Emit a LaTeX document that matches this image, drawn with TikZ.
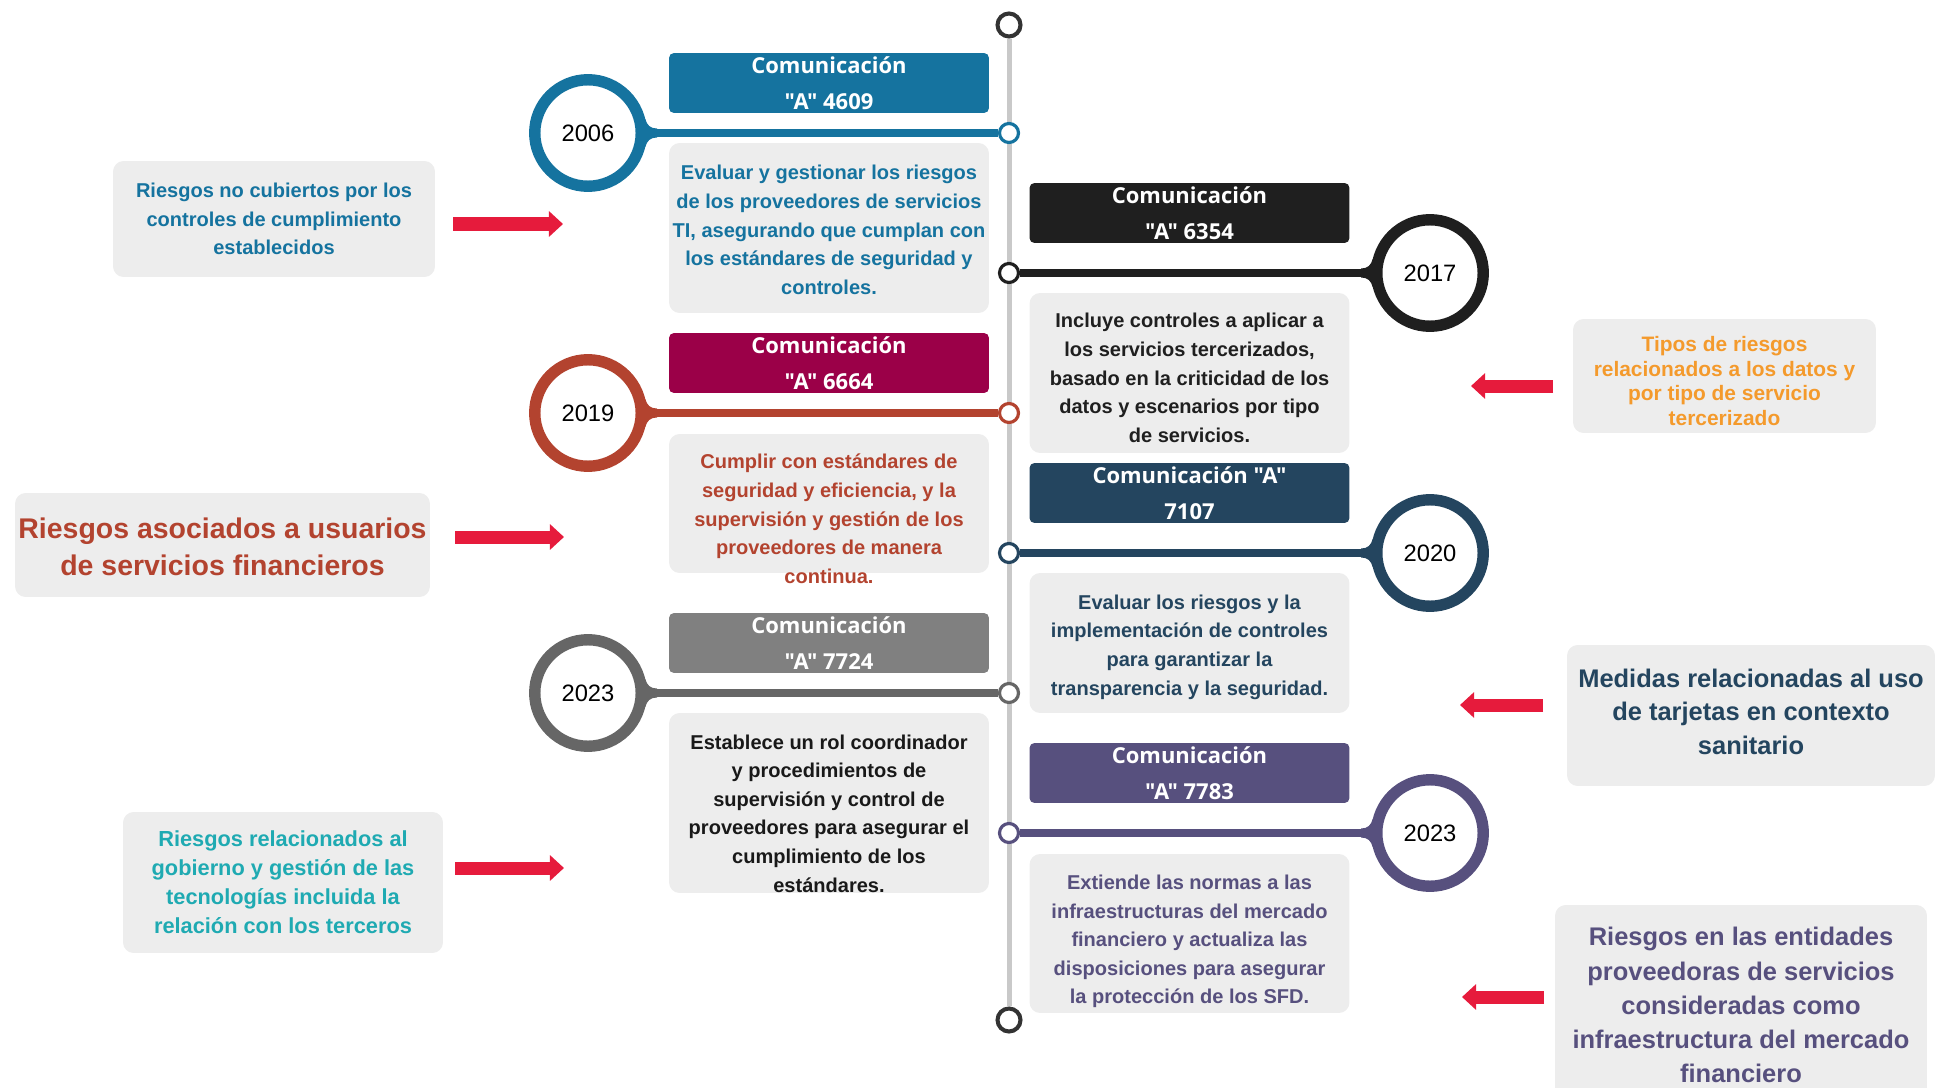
\documentclass[tikz,border=0pt]{standalone}
\usepackage{fontspec}
\setmainfont{Liberation Sans}
\newfontfamily\headfam{Open Sans}
\usetikzlibrary{arrows.meta}
\definecolor{cA}{HTML}{15739F}
\definecolor{cB}{HTML}{1F1F1F}
\definecolor{cC}{HTML}{B3432F}
\definecolor{cCh}{HTML}{9B0048}
\definecolor{cD}{HTML}{24455F}
\definecolor{cE}{HTML}{666666}
\definecolor{cEh}{HTML}{808080}
\definecolor{cF}{HTML}{57507E}
\definecolor{orng}{HTML}{F49A2C}
\definecolor{teal}{HTML}{1FAAB2}
\definecolor{arrred}{HTML}{E61B3C}
\definecolor{boxgray}{HTML}{EDEDED}
\definecolor{spinegray}{HTML}{C9C9C9}
\newcommand{\yrfont}{\fontsize{13.5pt}{16pt}\selectfont}
\newcommand{\hdfont}{\headfam\bfseries\fontsize{12.5pt}{20.5pt}\selectfont}
\newcommand{\txfont}{\bfseries\fontsize{11.4pt}{16.3pt}\selectfont}
\tikzset{yearc/.style={circle,draw=#1,line width=6.5pt,fill=white,minimum size=2.13cm,inner sep=0pt,font=\yrfont},
	 dotc/.style={circle,draw=#1,line width=1.8pt,fill=white,minimum size=0.38cm,inner sep=0pt},
	 endc/.style={circle,draw=black!80,line width=2.3pt,fill=white,minimum size=0.46cm,inner sep=0pt},
	 spine/.style={draw=spinegray,line width=2.85pt},
	 conn/.style={draw=#1,line width=5.1pt},
	 head/.style={rectangle,rounded corners=2.8pt,fill=#1,text=white,minimum width=6.4cm,minimum height=1.2cm,inner sep=0pt,align=center,font=\hdfont},
	 txtbox/.style={rectangle,rounded corners=6pt,fill=boxgray,minimum width=6.4cm,inner sep=0pt},
	 txt/.style={align=center,inner sep=0pt,font=\txfont,text=#1},
	 riskbox/.style={rectangle,rounded corners=6pt,fill=boxgray,inner sep=0pt},
	 risktxt/.style={align=center,inner sep=0pt,text=#1},
	 redarr/.style={draw=arrred,line width=7.4pt,-{Triangle[length=8pt,width=14.2pt]}}
	 }
\begin{document}
\begin{tikzpicture}[x=0.02cm,y=-0.02cm]
	\useasboundingbox (0,0) rectangle (1935,1088);
	% spine
	\node[endc] (top) at (1009,25) {};
	\node[endc] (bot) at (1009,1020) {};
	\draw[spine] (top) -- (bot);
	% 2006
	\node[yearc=cA] (y06) at (588,133) {2006};
	\node[dotc=cA] (d06) at (1009,133) {};
	\draw[conn=cA] (y06) -- (d06);
	\fill[cA,shift={(y06.center)}] (69,-4.5) .. controls (62,-4.5) and (59,-8) .. (57.3,-14) -- (50,0) -- (57.3,14) .. controls (59,8) and (62,4.5) .. (69,4.5) -- cycle;
	\node[head=cA] (h06) at (829,83) {Comunicación\\"A" 4609};
	\node[txtbox,minimum height=3.4cm] (b06) at (829,228) {};
	\node[txt=cA] (t06) at (829,230) {Evaluar y gestionar los riesgos\\de los proveedores de servicios\\TI, asegurando que cumplan con\\los estándares de seguridad y\\controles.};
	% 2017
	\node[yearc=cB] (y17) at (1430,273) {2017};
	\node[dotc=cB] (d17) at (1009,273) {};
	\draw[conn=cB] (y17) -- (d17);
	\fill[cB,shift={(y17.center)},xscale=-1] (69,-4.5) .. controls (62,-4.5) and (59,-8) .. (57.3,-14) -- (50,0) -- (57.3,14) .. controls (59,8) and (62,4.5) .. (69,4.5) -- cycle;
	\node[head=cB] (h17) at (1189.5,213) {Comunicación\\"A" 6354};
	\node[txtbox,minimum height=3.2cm] (b17) at (1189.5,373) {};
	\node[txt=cB] (t17) at (1189.5,378) {Incluye controles a aplicar a\\los servicios tercerizados,\\basado en la criticidad de los\\datos y escenarios por tipo\\de servicios.};
	% 2019
	\node[yearc=cC] (y19) at (588,413) {2019};
	\node[dotc=cC] (d19) at (1009,413) {};
	\draw[conn=cC] (y19) -- (d19);
	\fill[cC,shift={(y19.center)}] (69,-4.5) .. controls (62,-4.5) and (59,-8) .. (57.3,-14) -- (50,0) -- (57.3,14) .. controls (59,8) and (62,4.5) .. (69,4.5) -- cycle;
	\node[head=cCh] (h19) at (829,363) {Comunicación\\"A" 6664};
	\node[txtbox,minimum height=2.78cm] (b19) at (829,503.5) {};
	\node[txt=cC] (t19) at (829,519) {Cumplir con estándares de\\seguridad y eficiencia, y la\\supervisión y gestión de los\\proveedores de manera\\continua.};
	% 2020
	\node[yearc=cD] (y20) at (1430,553) {2020};
	\node[dotc=cD] (d20) at (1009,553) {};
	\draw[conn=cD] (y20) -- (d20);
	\fill[cD,shift={(y20.center)},xscale=-1] (69,-4.5) .. controls (62,-4.5) and (59,-8) .. (57.3,-14) -- (50,0) -- (57.3,14) .. controls (59,8) and (62,4.5) .. (69,4.5) -- cycle;
	\node[head=cD] (h20) at (1189.5,493) {Comunicación "A"\\7107};
	\node[txtbox,minimum height=2.8cm] (b20) at (1189.5,643) {};
	\node[txt=cD] (t20) at (1189.5,647) {Evaluar los riesgos y la\\implementación de controles\\para garantizar la\\transparencia y la seguridad.};
	% 2023 left
	\node[yearc=cE] (y23a) at (588,693) {2023};
	\node[dotc=cE] (d23a) at (1009,693) {};
	\draw[conn=cE] (y23a) -- (d23a);
	\fill[cE,shift={(y23a.center)}] (69,-4.5) .. controls (62,-4.5) and (59,-8) .. (57.3,-14) -- (50,0) -- (57.3,14) .. controls (59,8) and (62,4.5) .. (69,4.5) -- cycle;
	\node[head=cEh] (h23a) at (829,643) {Comunicación\\"A" 7724};
	\node[txtbox,minimum height=3.6cm] (b23a) at (829,803) {};
	\node[txt=black!90] (t23a) at (829,813.5) {Establece un rol coordinador\\y procedimientos de\\supervisión y control de\\proveedores para asegurar el\\cumplimiento de los\\estándares.};
	% 2023 right
	\node[yearc=cF] (y23b) at (1430,833) {2023};
	\node[dotc=cF] (d23b) at (1009,833) {};
	\draw[conn=cF] (y23b) -- (d23b);
	\fill[cF,shift={(y23b.center)},xscale=-1] (69,-4.5) .. controls (62,-4.5) and (59,-8) .. (57.3,-14) -- (50,0) -- (57.3,14) .. controls (59,8) and (62,4.5) .. (69,4.5) -- cycle;
	\node[head=cF] (h23b) at (1189.5,773) {Comunicación\\"A" 7783};
	\node[txtbox,minimum height=3.18cm] (b23b) at (1189.5,933.5) {};
	\node[txt=cF] (t23b) at (1189.5,941.5) {Extiende las normas a las\\infraestructuras del mercado\\financiero y actualiza las\\disposiciones para asegurar\\la protección de los SFD.};
	% risks, left side
	\node[riskbox,minimum width=6.44cm,minimum height=2.32cm] (r1) at (274,219) {};
	\node[risktxt=cA,font=\bfseries\fontsize{11.4pt}{16.1pt}\selectfont] (r1t) at (274,219) {Riesgos no cubiertos por los\\controles de cumplimiento\\establecidos};
	\node[riskbox,minimum width=8.3cm,minimum height=2.08cm] (r2) at (222.5,545) {};
	\node[risktxt=cC,font=\bfseries\fontsize{16.2pt}{20.9pt}\selectfont] (r2t) at (222.5,547) {Riesgos asociados a usuarios\\de servicios financieros};
	\node[riskbox,minimum width=6.4cm,minimum height=2.82cm] (r3) at (283,882.5) {};
	\node[risktxt=teal,font=\bfseries\fontsize{12.4pt}{16.5pt}\selectfont] (r3t) at (283,882.5) {Riesgos relacionados al\\gobierno y gestión de las\\tecnologías incluida la\\relación con los terceros};
	% risks, right side
	\node[riskbox,minimum width=6.06cm,minimum height=2.28cm] (r4) at (1724.5,376) {};
	\node[risktxt=orng,font=\bfseries\fontsize{11.9pt}{14.2pt}\selectfont] (r4t) at (1724.5,381) {Tipos de riesgos\\relacionados a los datos y\\por tipo de servicio\\tercerizado};
	\node[riskbox,minimum width=7.36cm,minimum height=2.82cm] (r5) at (1751,715.5) {};
	\node[risktxt=cD,font=\bfseries\fontsize{14.5pt}{19.3pt}\selectfont] (r5t) at (1751,711.8) {Medidas relacionadas al uso\\de tarjetas en contexto\\sanitario};
	\node[riskbox,minimum width=7.44cm,minimum height=4cm] (r6) at (1741,1005) {};
	\node[risktxt=cF,font=\bfseries\fontsize{14.5pt}{19.4pt}\selectfont] (r6t) at (1741,1005) {Riesgos en las entidades\\proveedoras de servicios\\consideradas como\\infraestructura del mercado\\financiero};
	% arrows
	\coordinate (a1s) at (453,224); \coordinate (a1e) at (563,224);
	\coordinate (a2s) at (455,537); \coordinate (a2e) at (564,537);
	\coordinate (a3s) at (455,868); \coordinate (a3e) at (564,868);
	\coordinate (a4s) at (1553,386); \coordinate (a4e) at (1471,386);
	\coordinate (a5s) at (1543,705); \coordinate (a5e) at (1460,705);
	\coordinate (a6s) at (1544,997); \coordinate (a6e) at (1462,997);
	\draw[redarr] (a1s) -- (a1e);
	\draw[redarr] (a2s) -- (a2e);
	\draw[redarr] (a3s) -- (a3e);
	\draw[redarr] (a4s) -- (a4e);
	\draw[redarr] (a5s) -- (a5e);
	\draw[redarr] (a6s) -- (a6e);
\end{tikzpicture}
\end{document}
